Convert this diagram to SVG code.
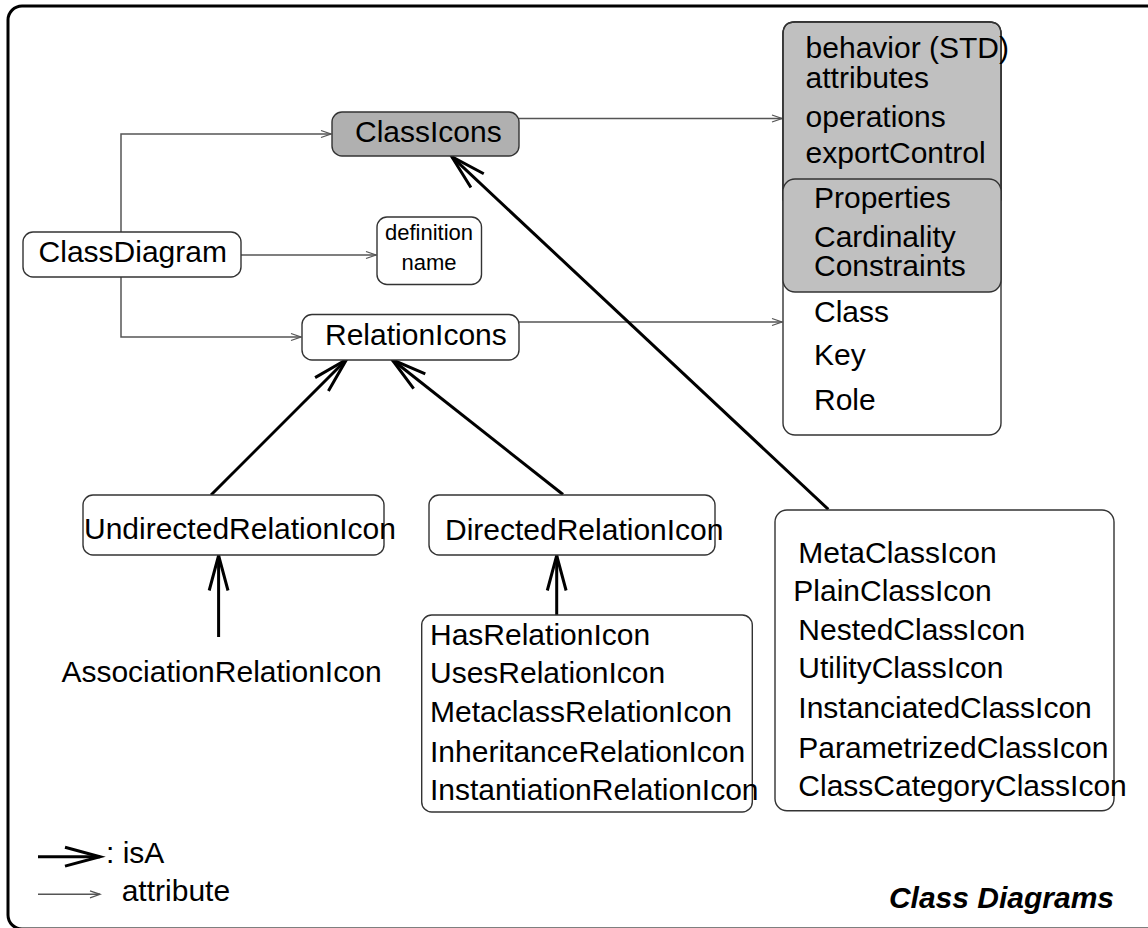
<svg xmlns="http://www.w3.org/2000/svg" width="1148" height="928" viewBox="0 0 1148 928">
  <style>
    text { font-family: "Liberation Sans", Arial, Helvetica, sans-serif; font-size: 30px; fill: #000; }
    .small { font-size: 22px; }
    .title { font-weight: bold; font-style: italic; }
    .box { fill: #fff; stroke: #333; stroke-width: 1.4; }
    .dark { fill: #b0b0b0; stroke: #333; stroke-width: 1.4; }
    .grey { fill: #c0c0c0; stroke: #333; stroke-width: 1.4; }
    .attr { fill: none; stroke: #555; stroke-width: 1.5; marker-end: url(#attrHead); }
    .isa { fill: none; stroke: #000; stroke-width: 3; marker-end: url(#isaHead); }
  </style>
  <defs>
    <marker id="isaHead" markerUnits="userSpaceOnUse" orient="auto" refX="0" refY="0" markerWidth="60" markerHeight="60" viewBox="-45 -30 60 60" overflow="visible">
      <path d="M -35,-9.4 L 0,0 L -35,9.4" fill="none" stroke="#000" stroke-width="3"/>
    </marker>
    <marker id="attrHead" markerUnits="userSpaceOnUse" orient="auto" refX="0" refY="0" markerWidth="20" markerHeight="20" viewBox="-15 -10 20 20" overflow="visible">
      <path d="M -10,-3.5 L 0,0 L -10,3.5" fill="none" stroke="#555" stroke-width="1.3"/>
    </marker>
  </defs>

  <rect width="1148" height="928" fill="#fff"/>
  <!-- outer frame -->
  <rect x="8" y="6" width="1200" height="923" rx="14" fill="none" stroke="#000" stroke-width="3"/>

  <!-- connectors -->
  <g id="connectors">
    <polyline class="attr" points="121,232 121,134 331,134"/>
    <polyline class="attr" points="121,277 121,337 301,337"/>
    <line class="attr" x1="241" y1="255" x2="376" y2="255"/>
    <line class="attr" x1="519" y1="118.5" x2="782" y2="118.5"/>
    <line class="attr" x1="519" y1="322" x2="782" y2="322"/>
    <line class="isa" x1="211" y1="495" x2="346.5" y2="359.5"/>
    <line class="isa" x1="563" y1="494.5" x2="392" y2="359.5"/>
    <line class="isa" x1="218.6" y1="637" x2="218.6" y2="555.5"/>
    <line class="isa" x1="556.7" y1="615" x2="556.7" y2="555.5"/>
    <line class="isa" x1="828.3" y1="509.3" x2="451.8" y2="156.7"/>
  </g>

  <g id="ClassIcons">
    <rect class="dark" x="332" y="112" width="187" height="44" rx="10"/>
    <text x="355" y="142">ClassIcons</text>
  </g>

  <g id="ClassDiagram">
    <rect class="box" x="23" y="232" width="218" height="45" rx="10"/>
    <text x="38.6" y="262">ClassDiagram</text>
  </g>

  <g id="definition">
    <rect class="box" x="377" y="217" width="104.5" height="67.5" rx="10"/>
    <text class="small" x="429" y="239.5" text-anchor="middle">definition</text>
    <text class="small" x="429" y="269.5" text-anchor="middle">name</text>
  </g>

  <g id="RelationIcons">
    <rect class="box" x="302" y="314.5" width="217" height="45.5" rx="10"/>
    <text x="325" y="345">RelationIcons</text>
  </g>

  <g id="Attributes">
    <rect class="box" x="783" y="22" width="218" height="413" rx="12"/>
    <path class="grey" d="M 783,200 L 783,34 Q 783,22 795,22 L 989,22 Q 1001,22 1001,34 L 1001,200 Z" stroke="none"/>
    <path d="M 783,200 L 783,34 Q 783,22 795,22 L 989,22 Q 1001,22 1001,34 L 1001,200" fill="none" stroke="#333" stroke-width="1.4"/>
    <text x="805.6" y="58.3">behavior (STD)</text>
    <text x="805.6" y="88.3">attributes</text>
    <text x="805.6" y="126.7">operations</text>
    <text x="805.6" y="163.3">exportControl</text>
    <rect class="grey" x="783" y="179" width="218" height="113" rx="12"/>
    <text x="814" y="208.3">Properties</text>
    <text x="814" y="246.7">Cardinality</text>
    <text x="814" y="276">Constraints</text>
    <text x="814" y="321.7">Class</text>
    <text x="814" y="365">Key</text>
    <text x="814" y="410">Role</text>
  </g>

  <g id="UndirectedRelationIcon">
    <rect class="box" x="83" y="495" width="301" height="60" rx="10"/>
    <text x="84" y="539.3">UndirectedRelationIcon</text>
  </g>

  <g id="DirectedRelationIcon">
    <rect class="box" x="429" y="495" width="286" height="60" rx="10"/>
    <text x="445" y="540">DirectedRelationIcon</text>
  </g>

  <g id="AssociationRelationIcon">
    <text x="61.4" y="681.7">AssociationRelationIcon</text>
  </g>

  <g id="DirectedKinds">
    <rect class="box" x="421.7" y="615" width="330.6" height="197" rx="10"/>
    <text x="430" y="645">HasRelationIcon</text>
    <text x="430" y="683">UsesRelationIcon</text>
    <text x="430" y="722">MetaclassRelationIcon</text>
    <text x="430" y="761.5">InheritanceRelationIcon</text>
    <text x="430" y="800">InstantiationRelationIcon</text>
  </g>

  <g id="ClassKinds">
    <rect class="box" x="775" y="510" width="339" height="300.7" rx="12"/>
    <text x="798.3" y="562.7">MetaClassIcon</text>
    <text x="793.3" y="600.7">PlainClassIcon</text>
    <text x="798.3" y="640">NestedClassIcon</text>
    <text x="798.3" y="678.3">UtilityClassIcon</text>
    <text x="798.3" y="718.3">InstanciatedClassIcon</text>
    <text x="798.3" y="758.3">ParametrizedClassIcon</text>
    <text x="798.3" y="796">ClassCategoryClassIcon</text>
  </g>

  <!-- legend -->
  <g id="legend">
    <line class="isa" x1="38" y1="856.7" x2="100" y2="856.7"/>
    <text x="106" y="863.3">: isA</text>
    <line class="attr" x1="38" y1="894.3" x2="100" y2="894.3"/>
    <text x="121.7" y="900.7">attribute</text>
  </g>

  <g id="caption">
    <text class="title" x="1114" y="908" text-anchor="end">Class Diagrams</text>
  </g>
</svg>
